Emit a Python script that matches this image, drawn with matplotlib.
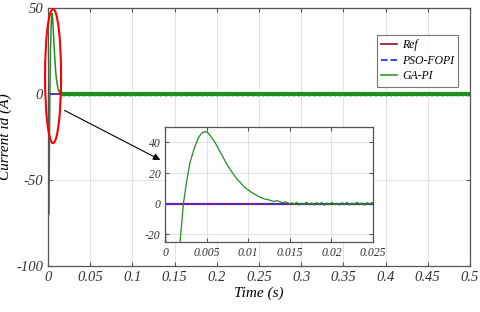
import numpy as np
import matplotlib
matplotlib.use("Agg")
import matplotlib.pyplot as plt
from matplotlib.patches import Ellipse

plt.rcParams['font.family'] = ['Liberation Serif', 'DejaVu Serif']
plt.rcParams['font.style'] = 'italic'
plt.rcParams['axes.unicode_minus'] = False

# GA-PI transient
t_tr = [0.0, 0.00005, 0.0003, 0.0008, 0.0014, 0.0018, 0.0022, 0.0026, 0.0030,
        0.0035, 0.0040, 0.0044, 0.0048, 0.0052, 0.0056, 0.0060, 0.0065, 0.0070,
        0.0075, 0.0080, 0.0085, 0.0090, 0.0095, 0.0100, 0.0105, 0.0110, 0.0115,
        0.0120, 0.0125, 0.0130, 0.0135, 0.0140, 0.0145, 0.0150]
i_tr = [0.0, -20.0, -55.0, -70.0, -50.0, -25.0, 0.0, 15.0, 27.0,
        36.0, 43.0, 46.0, 47.0, 46.0, 43.0, 40.0, 35.0, 30.0,
        25.0, 21.0, 17.0, 14.0, 11.0, 9.0, 7.0, 5.5, 4.0,
        3.0, 2.5, 1.5, 2.0, 0.8, 1.2, 0.0]
# steady-state ripple of GA-PI around zero
ripple = [0.6, -0.5, 0.9, -0.8, 0.3, -0.4, 1.0, -0.7, 0.5, -0.9,
          0.7, -0.3, 0.8, -1.0, 0.4, -0.6, 0.9, -0.5, 0.2, -0.8]

t_end = 0.5
t_ss = np.linspace(0.0152, t_end, 1600)
i_ss = np.tile(ripple, len(t_ss) // len(ripple) + 1)[:len(t_ss)]
t_ga = np.concatenate([t_tr, t_ss])
i_ga = np.concatenate([i_tr, i_ss])

t_ref = [0.0, t_end]
i_ref = [0.0, 0.0]
t_pso = [0.0, t_end]
i_pso = [0.0, 0.0]

c_ref = '#a01c3c'
c_pso = '#3030ff'
c_ga = '#1f8f1f'

fig = plt.figure(figsize=(4.8, 3.12), dpi=100)
ax = fig.add_axes([0.1, 0.147, 0.879, 0.827])

def style(a, fs):
    a.grid(True, color='#dddddd', linewidth=0.6)
    a.set_axisbelow(True)
    for s in a.spines.values():
        s.set_color('#555555')
        s.set_linewidth(0.9)
    a.tick_params(direction='in', length=3, color='#555555', labelsize=fs,
                  top=True, right=True, labelcolor='#333333')

ax.plot(t_ref, i_ref, color=c_ref, lw=1.3, label='Ref')
ax.plot(t_pso, i_pso, color=c_pso, lw=1.3, ls='--', label='PSO-FOPI')
ax.plot(t_ga, i_ga, color=c_ga, lw=1.1, label='GA-PI')
ax.set_xlim(0, 0.5)
ax.set_ylim(-100, 50)
ax.set_xticks(np.arange(0, 0.51, 0.05))
ax.set_xticklabels(['0', '0.05', '0.1', '0.15', '0.2', '0.25', '0.3', '0.35',
                    '0.4', '0.45', '0.5'])
ax.set_yticks([-100, -50, 0, 50])
style(ax, 10.5)
ax.set_xlabel('Time (s)', fontsize=11, labelpad=2)
ax.set_ylabel('Current id (A)', fontsize=11)
ax.yaxis.set_label_coords(-0.085, 0.5)

leg = ax.legend(loc='upper right', bbox_to_anchor=(0.972, 0.895), fontsize=8.5,
                frameon=True, fancybox=False, edgecolor='#555555',
                handlelength=1.4, borderpad=0.35, labelspacing=0.3,
                handletextpad=0.4, borderaxespad=0)
leg.get_frame().set_linewidth(0.8)

ax.add_patch(Ellipse((0.006, 10.5), 0.019, 78, fill=False, edgecolor='red',
                     lw=1.5, clip_on=False, zorder=5))
ax.annotate('', xy=(0.136, -39), xytext=(0.0166, -8.7),
            arrowprops=dict(arrowstyle='-|>', color='black', lw=0.8,
                            mutation_scale=10))

ins = fig.add_axes([0.344, 0.224, 0.433, 0.369])
ins.plot(t_ref, i_ref, color=c_ref, lw=1.6)
ins.plot(t_pso, i_pso, color=c_pso, lw=1.2, ls='--')
ins.plot(t_ga, i_ga, color=c_ga, lw=0.9)
ins.set_xlim(0, 0.025)
ins.set_ylim(-25, 50)
ins.set_xticks([0, 0.005, 0.01, 0.015, 0.02, 0.025])
ins.set_xticklabels(['0', '0.005', '0.01', '0.015', '0.02', '0.025'])
ins.set_yticks([-20, 0, 20, 40])
style(ins, 8.5)

fig.savefig('out.png', dpi=100)
